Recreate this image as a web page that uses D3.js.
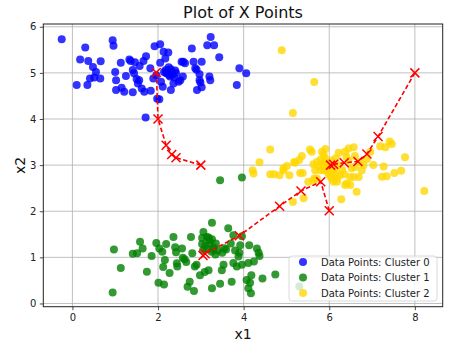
<!DOCTYPE html>
<html>
<head>
<meta charset="utf-8">
<script src="https://cdn.jsdelivr.net/npm/d3@7"></script>
<style>
  html, body { margin: 0; padding: 0; background: #fff; }
  svg { display: block; font-family: "DejaVu Sans", sans-serif; }
</style>
</head>
<body>
<svg id="chart" width="463" height="347"></svg>
<script>
// Cluster 0 points (x1, x2)
const cluster0 = [[-0.25,5.73],[0.30,5.55],[0.18,5.29],[0.10,4.74],[0.37,5.26],[0.48,5.13],[0.55,5.02],[0.41,4.88],[0.51,4.90],[0.35,4.74],[0.66,5.25],[0.65,4.88],[0.94,5.71],[0.96,5.59],[1.00,5.02],[1.02,4.84],[1.13,5.22],[1.02,4.63],[1.15,4.68],[1.21,4.59],[1.25,4.93],[1.33,5.29],[1.36,5.26],[1.41,4.58],[1.41,5.06],[1.44,4.99],[1.50,4.87],[1.53,4.77],[1.56,4.84],[1.46,5.23],[1.57,5.15],[1.66,5.26],[1.72,5.36],[1.62,4.66],[1.68,4.59],[1.82,5.10],[1.83,4.61],[1.89,4.88],[1.92,5.58],[1.96,4.95],[2.05,5.62],[2.05,5.22],[2.13,5.46],[2.17,5.31],[2.24,5.44],[2.14,5.02],[2.19,4.99],[2.07,4.81],[2.11,4.70],[2.03,4.43],[1.98,4.44],[2.28,4.92],[2.30,4.63],[2.32,5.02],[2.36,4.77],[2.40,5.05],[2.48,4.81],[2.52,4.84],[2.55,5.24],[2.59,5.24],[2.58,4.92],[2.63,5.21],[2.79,5.53],[2.83,5.24],[2.87,5.10],[2.90,5.07],[2.97,4.97],[2.97,4.84],[2.99,4.79],[2.91,4.63],[3.02,4.69],[3.02,5.24],[3.15,5.60],[3.23,5.78],[3.31,5.60],[3.20,4.92],[3.22,4.84],[3.43,5.34],[3.84,4.74],[3.90,5.10],[4.06,4.99],[1.71,4.03],[2.22,5.00],[2.26,4.95],[2.30,5.08],[2.34,4.96],[2.18,5.06],[2.25,5.12],[2.38,4.90],[2.42,5.00]];

// Cluster 1 points
const cluster1 = [[0.94,0.24],[0.97,1.17],[1.13,0.77],[1.41,1.08],[1.51,1.09],[1.58,1.34],[1.64,1.19],[1.74,0.69],[1.85,1.03],[1.96,1.31],[2.01,0.45],[2.03,1.19],[2.10,1.12],[2.14,0.41],[2.12,0.79],[2.19,1.29],[2.16,0.94],[2.27,0.66],[2.36,1.44],[2.40,1.22],[2.42,1.11],[2.44,0.87],[2.45,0.80],[2.56,1.19],[2.58,0.99],[2.62,0.96],[2.66,0.90],[2.69,0.36],[2.74,0.47],[2.77,1.44],[2.80,1.09],[2.84,0.27],[2.86,0.80],[2.90,0.84],[2.98,0.61],[3.03,1.29],[3.09,0.68],[3.18,0.72],[3.14,1.44],[3.20,1.37],[3.26,0.33],[3.29,1.17],[3.34,1.06],[3.45,0.43],[3.49,0.72],[3.53,0.84],[3.59,1.17],[3.72,0.47],[3.76,0.88],[3.84,0.80],[3.88,1.02],[3.92,1.26],[3.96,0.84],[4.07,0.51],[4.11,0.88],[4.11,0.33],[4.17,0.22],[4.18,0.61],[4.15,0.45],[4.13,1.26],[4.24,0.91],[4.31,1.19],[4.35,1.10],[4.37,1.03],[4.44,0.54],[4.74,0.63],[3.06,1.55],[3.26,1.75],[3.45,2.67],[3.96,2.73],[3.64,1.63],[3.76,1.48],[3.96,1.46],[3.03,1.42],[3.18,1.43],[3.26,1.39],[3.10,1.25],[3.15,1.18],[3.20,1.30],[3.25,1.12],[3.30,1.22],[3.05,1.15],[3.35,1.30],[3.40,1.15],[3.50,1.10],[3.55,1.20],[3.70,1.30],[3.80,1.15],[3.90,1.10],[5.30,0.37]];

// Cluster 2 points
const cluster2 = [[4.89,5.49],[5.65,4.80],[5.15,4.13],[4.62,3.34],[4.37,3.06],[4.21,2.89],[4.23,2.82],[4.62,2.80],[4.71,2.80],[4.84,2.78],[4.93,2.89],[5.01,2.98],[5.07,2.78],[5.20,3.05],[5.30,3.11],[5.36,3.20],[5.32,2.83],[5.38,2.83],[5.55,3.34],[5.59,3.29],[5.83,3.29],[5.87,3.22],[5.91,3.35],[5.63,3.02],[5.71,3.07],[5.75,2.97],[5.79,2.89],[5.67,2.89],[5.87,2.89],[5.51,2.64],[5.63,2.66],[5.71,2.71],[5.15,2.20],[5.40,2.28],[6.02,2.76],[6.10,2.64],[6.18,2.71],[6.25,2.78],[6.22,3.27],[6.37,3.29],[6.40,3.18],[6.45,3.36],[6.57,3.39],[6.60,3.20],[6.41,2.60],[6.49,2.57],[6.64,2.42],[6.28,2.26],[6.57,2.74],[6.69,2.74],[6.76,2.89],[6.80,3.00],[6.88,3.13],[6.96,3.29],[7.19,3.41],[7.31,3.39],[7.41,3.51],[7.46,3.46],[7.03,3.00],[7.23,2.75],[7.34,2.76],[7.27,2.97],[7.52,2.83],[7.68,2.88],[7.77,3.17],[8.22,2.44],[4.93,2.93],[5.18,3.07],[5.90,3.15],[5.94,2.89],[6.06,2.71],[6.14,2.79],[6.18,2.64],[5.65,2.71],[6.52,2.93],[6.60,2.96],[6.71,3.07],[6.49,2.74],[6.37,2.57],[5.95,3.05],[6.00,2.95],[6.05,3.10],[6.12,2.92],[5.85,3.05],[5.98,2.82],[6.20,3.00],[6.08,2.86],[5.90,2.98],[6.30,2.90],[6.15,3.15],[5.80,3.12],[6.45,3.10],[6.35,2.80]];

// Centroid positions per iteration, one trail per cluster
const centroidTrail0 = [[3.0,3.0],[2.42,3.16],[2.32,3.23],[2.19,3.43],[2.0,4.0],[1.96,5.01]];
const centroidTrail1 = [[6.0,2.01],[5.80,2.64],[5.34,2.44],[4.84,2.11],[3.90,1.47],[3.10,1.08],[3.05,1.04]];
const centroidTrail2 = [[8.0,5.0],[7.14,3.62],[6.88,3.24],[6.67,3.08],[6.35,3.05],[6.10,3.02],[6.03,3.0]];

const xTicks = [0, 2, 4, 6, 8];
const yTicks = [0, 1, 2, 3, 4, 5, 6];
const clusterNames = ["Data Points: Cluster 0", "Data Points: Cluster 1", "Data Points: Cluster 2"];
const clusterColors = ["#0000ff", "#008000", "#ffd700"];

const svg = d3.select("#chart");
const plot = { left: 43.3, right: 442.7, top: 24, bottom: 306.7 };

const x = d3.scaleLinear().domain([-0.68, 8.65]).range([plot.left, plot.right]);
const y = d3.scaleLinear().domain([-0.07, 6.06]).range([plot.bottom, plot.top]);

// grid
const grid = svg.append("g").attr("stroke", "#b0b0b0").attr("stroke-width", 0.8);
grid.selectAll(".gx").data(xTicks).join("line")
  .attr("x1", d => x(d)).attr("x2", d => x(d))
  .attr("y1", plot.top).attr("y2", plot.bottom);
grid.selectAll(".gy").data(yTicks).join("line")
  .attr("y1", d => y(d)).attr("y2", d => y(d))
  .attr("x1", plot.left).attr("x2", plot.right);

// scatter points
const sets = [cluster0, cluster1, cluster2];
sets.forEach((pts, i) => {
  svg.append("g").selectAll("circle").data(pts).join("circle")
    .attr("cx", d => x(d[0])).attr("cy", d => y(d[1]))
    .attr("r", 4)
    .attr("fill", clusterColors[i])
    .attr("fill-opacity", 0.8);
});

// centroid trails
const line = d3.line().x(d => x(d[0])).y(d => y(d[1]));
[centroidTrail0, centroidTrail1, centroidTrail2].forEach(trail => {
  svg.append("path").datum(trail)
    .attr("d", line)
    .attr("fill", "none")
    .attr("stroke", "#ff0000")
    .attr("stroke-width", 1.6)
    .attr("stroke-dasharray", "4.5,2.5");
  const s = 4.5;
  svg.append("g").selectAll("path").data(trail).join("path")
    .attr("d", d => {
      const cx = x(d[0]), cy = y(d[1]);
      return `M${cx - s},${cy - s}L${cx + s},${cy + s}M${cx - s},${cy + s}L${cx + s},${cy - s}`;
    })
    .attr("stroke", "#ff0000")
    .attr("stroke-width", 1.5)
    .attr("fill", "none");
});

// axes
const xAxis = d3.axisBottom(x).tickValues(xTicks).tickSize(3.5).tickPadding(3.5).tickFormat(d3.format("d"));
const yAxis = d3.axisLeft(y).tickValues(yTicks).tickSize(3.5).tickPadding(3.5).tickFormat(d3.format("d"));
const gx = svg.append("g").attr("transform", `translate(0,${plot.bottom})`).call(xAxis);
const gy = svg.append("g").attr("transform", `translate(${plot.left},0)`).call(yAxis);
[gx, gy].forEach(g => {
  g.select(".domain").remove();
  g.selectAll(".tick line").attr("stroke", "#222").attr("stroke-width", 0.8);
  g.selectAll(".tick text").attr("font-size", 10).attr("fill", "#222")
    .attr("font-family", "DejaVu Sans, sans-serif");
});

// frame
svg.append("rect")
  .attr("x", plot.left).attr("y", plot.top)
  .attr("width", plot.right - plot.left).attr("height", plot.bottom - plot.top)
  .attr("fill", "none").attr("stroke", "#222").attr("stroke-width", 1);

// legend
const lg = svg.append("g").attr("transform", "translate(289,256)");
lg.append("rect").attr("width", 148).attr("height", 45).attr("rx", 3)
  .attr("fill", "#fff").attr("fill-opacity", 0.8)
  .attr("stroke", "#d0d0d0").attr("stroke-width", 0.8);
clusterNames.forEach((name, i) => {
  const yy = 6 + i * 15.5;
  lg.append("circle").attr("cx", 14).attr("cy", yy).attr("r", 4)
    .attr("fill", clusterColors[i]).attr("fill-opacity", 0.8);
  lg.append("text").attr("x", 32).attr("y", yy + 3.5)
    .attr("font-size", 10).attr("fill", "#222").text(name);
});

// titles
svg.append("text").attr("x", (plot.left + plot.right) / 2).attr("y", 18)
  .attr("text-anchor", "middle").attr("font-size", 16).attr("fill", "#111")
  .text("Plot of X Points");
svg.append("text").attr("x", (plot.left + plot.right) / 2).attr("y", 339)
  .attr("text-anchor", "middle").attr("font-size", 14).attr("fill", "#111")
  .text("x1");
svg.append("text")
  .attr("transform", `translate(25,${(plot.top + plot.bottom) / 2}) rotate(-90)`)
  .attr("text-anchor", "middle").attr("font-size", 14).attr("fill", "#111")
  .text("x2");
</script>
</body>
</html>
